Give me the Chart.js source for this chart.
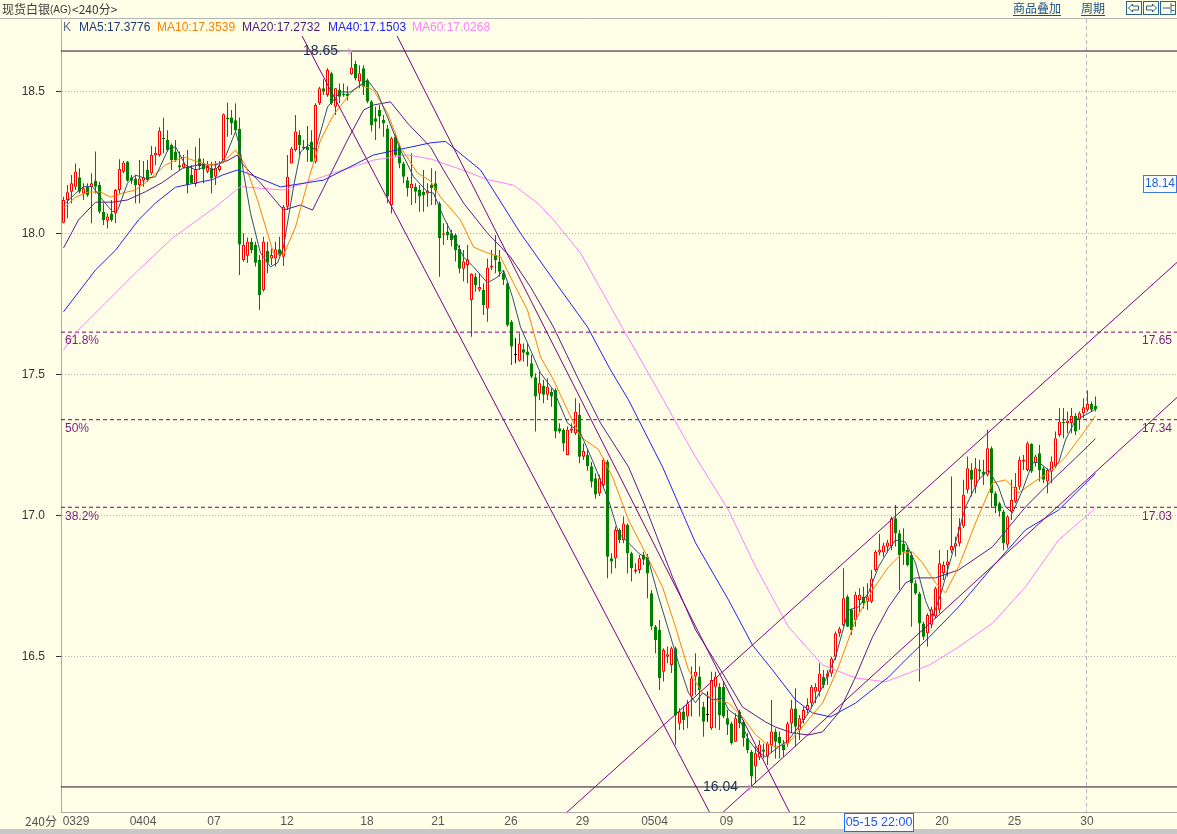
<!DOCTYPE html>
<html>
<head>
<meta charset="utf-8">
<script src="https://cdn.jsdelivr.net/npm/chart.js@4.4.0/dist/chart.umd.min.js"></script>
<style>
  html, body { margin: 0; padding: 0; background: #ffffe8; overflow: hidden; }
  #wrap { position: relative; width: 1177px; height: 834px; }
</style>
</head>
<body>
<div id="wrap"><canvas id="kline" width="1177" height="834"></canvas></div>
<script>
// 现货白银 240分 K线
const opens = [
  18.037,18.118,18.147,18.165,18.198,18.141,18.165,18.165,18.186,18.171,
  18.076,18.044,18.070,18.070,18.153,18.218,18.253,18.198,18.194,18.171,
  18.186,18.224,18.212,18.276,18.277,18.338,18.330,18.312,18.289,18.241,
  18.233,18.236,18.206,18.174,18.265,18.250,18.218,18.230,18.200,18.224,
  18.253,18.410,18.410,18.400,18.370,17.905,17.920,17.970,17.958,17.905,
  17.799,17.938,17.911,17.911,17.943,17.917,18.094,18.247,18.295,18.348,
  18.306,18.306,18.324,18.253,18.460,18.513,18.489,18.566,18.448,18.507,
  18.495,18.495,18.563,18.599,18.537,18.584,18.542,18.466,18.407,18.436,
  18.401,18.371,18.100,18.342,18.306,18.247,18.188,18.159,18.165,18.153,
  18.147,18.141,18.171,18.177,18.106,17.995,18.006,18.000,17.994,17.944,
  17.874,17.888,17.764,17.846,17.800,17.799,17.734,17.879,17.923,17.900,
  17.858,17.823,17.687,17.569,17.549,17.589,17.581,17.540,17.490,17.433,
  17.459,17.428,17.439,17.445,17.310,17.304,17.215,17.301,17.292,17.357,
  17.209,17.215,17.175,17.133,17.080,17.109,17.192,16.850,16.850,16.950,
  16.914,16.968,16.867,16.803,16.808,16.861,16.855,16.726,16.608,16.596,
  16.448,16.501,16.472,16.531,16.265,16.307,16.289,16.360,16.431,16.431,
  16.324,16.295,16.248,16.395,16.395,16.395,16.283,16.265,16.200,16.307,
  16.271,16.212,16.165,16.112,16.145,16.173,16.147,16.188,16.236,16.218,
  16.194,16.194,16.265,16.318,16.242,16.277,16.312,16.336,16.377,16.377,
  16.430,16.430,16.442,16.501,16.584,16.613,16.714,16.666,16.631,16.702,
  16.714,16.696,16.696,16.808,16.870,16.870,16.890,16.891,16.991,16.938,
  16.902,16.879,16.861,16.761,16.725,16.619,16.584,16.614,16.643,16.667,
  16.797,16.826,16.877,16.891,16.903,16.962,17.092,17.162,17.103,17.165,
  17.157,17.145,17.239,17.080,17.044,17.015,16.897,17.015,17.050,17.103,
  17.192,17.162,17.254,17.186,17.221,17.168,17.121,17.157,17.174,17.286,
  17.333,17.328,17.328,17.353,17.340,17.363,17.375,17.396,17.389
];
const highs = [
  18.129,18.171,18.206,18.247,18.230,18.177,18.177,18.212,18.289,18.182,
  18.106,18.070,18.118,18.157,18.262,18.256,18.256,18.206,18.206,18.259,
  18.256,18.259,18.309,18.306,18.375,18.409,18.365,18.318,18.330,18.289,
  18.277,18.295,18.241,18.306,18.336,18.265,18.256,18.253,18.256,18.256,
  18.424,18.463,18.436,18.460,18.410,18.000,17.985,17.983,17.970,17.923,
  17.988,17.970,17.946,17.970,17.988,18.100,18.277,18.306,18.419,18.365,
  18.330,18.380,18.365,18.460,18.519,18.545,18.584,18.572,18.513,18.530,
  18.530,18.520,18.645,18.611,18.595,18.595,18.548,18.472,18.448,18.454,
  18.419,18.383,18.342,18.354,18.318,18.253,18.200,18.283,18.177,18.171,
  18.224,18.177,18.230,18.220,18.112,18.035,18.035,18.012,18.000,17.958,
  17.941,17.958,17.858,17.858,17.858,17.823,17.911,17.941,17.994,17.941,
  17.870,17.829,17.693,17.628,17.646,17.610,17.610,17.569,17.504,17.510,
  17.481,17.487,17.451,17.451,17.327,17.310,17.316,17.327,17.416,17.398,
  17.256,17.235,17.190,17.150,17.145,17.204,17.198,16.867,16.962,16.956,
  16.997,16.973,16.873,16.832,16.861,16.873,16.865,16.737,16.613,16.631,
  16.531,16.537,16.537,16.537,16.319,16.325,16.348,16.466,16.513,16.466,
  16.342,16.378,16.448,16.448,16.407,16.413,16.313,16.271,16.301,16.313,
  16.277,16.230,16.171,16.183,16.205,16.194,16.200,16.348,16.247,16.236,
  16.206,16.271,16.348,16.389,16.295,16.324,16.354,16.401,16.407,16.478,
  16.454,16.454,16.501,16.590,16.607,16.814,16.720,16.672,16.731,16.743,
  16.749,16.761,16.808,16.879,16.935,16.905,16.915,16.997,17.038,16.950,
  16.956,16.891,16.873,16.773,16.731,16.625,16.655,16.678,16.749,16.879,
  16.838,16.879,17.139,16.926,16.991,17.127,17.210,17.186,17.204,17.198,
  17.198,17.304,17.245,17.086,17.050,17.021,17.003,17.127,17.151,17.210,
  17.215,17.263,17.257,17.215,17.251,17.174,17.168,17.210,17.298,17.381,
  17.381,17.369,17.381,17.363,17.369,17.416,17.443,17.404,17.422
];
const lows = [
  18.035,18.053,18.106,18.153,18.141,18.118,18.129,18.035,18.141,18.070,
  18.029,18.017,18.041,18.035,18.141,18.212,18.182,18.174,18.106,18.106,
  18.165,18.182,18.206,18.241,18.271,18.283,18.289,18.224,18.253,18.224,
  18.230,18.141,18.177,18.165,18.224,18.177,18.212,18.141,18.171,18.218,
  18.250,18.342,18.348,18.360,17.852,17.899,17.895,17.929,17.882,17.728,
  17.793,17.858,17.888,17.882,17.919,17.884,18.082,18.247,18.289,18.277,
  18.295,18.253,18.253,18.247,18.454,18.489,18.483,18.454,18.419,18.460,
  18.483,18.470,18.560,18.542,18.513,18.489,18.460,18.360,18.330,18.371,
  18.342,18.106,18.070,18.271,18.230,18.177,18.130,18.100,18.106,18.076,
  18.076,18.094,18.100,18.100,17.846,17.958,17.976,17.953,17.900,17.858,
  17.829,17.823,17.634,17.793,17.793,17.711,17.687,17.870,17.858,17.846,
  17.817,17.669,17.534,17.540,17.546,17.546,17.528,17.487,17.298,17.410,
  17.398,17.410,17.386,17.274,17.292,17.227,17.215,17.292,17.286,17.186,
  17.197,17.160,17.100,17.060,17.070,17.103,16.779,16.796,16.814,16.903,
  16.903,16.796,16.767,16.796,16.796,16.826,16.708,16.596,16.513,16.383,
  16.413,16.478,16.443,16.189,16.242,16.242,16.248,16.289,16.366,16.289,
  16.218,16.271,16.242,16.248,16.242,16.283,16.224,16.189,16.200,16.248,
  16.183,16.159,16.040,16.053,16.135,16.141,16.118,16.159,16.141,16.141,
  16.147,16.183,16.230,16.183,16.206,16.265,16.301,16.318,16.336,16.360,
  16.389,16.401,16.430,16.489,16.572,16.607,16.607,16.578,16.607,16.660,
  16.672,16.666,16.690,16.802,16.860,16.855,16.870,16.879,16.891,16.737,
  16.826,16.820,16.607,16.720,16.413,16.560,16.537,16.602,16.637,16.655,
  16.773,16.785,16.867,16.856,16.891,16.956,17.080,17.068,17.080,17.127,
  17.109,17.139,17.027,17.009,16.997,16.879,16.885,16.985,17.044,17.092,
  17.162,17.157,17.151,17.174,17.121,17.115,17.080,17.115,17.168,17.280,
  17.274,17.292,17.292,17.286,17.304,17.345,17.369,17.369,17.369
];
const closes = [
  18.118,18.145,18.177,18.218,18.147,18.159,18.135,18.177,18.165,18.076,
  18.047,18.059,18.047,18.153,18.227,18.250,18.186,18.186,18.171,18.194,
  18.198,18.188,18.277,18.285,18.363,18.333,18.295,18.259,18.259,18.233,
  18.247,18.171,18.177,18.227,18.236,18.226,18.238,18.194,18.232,18.238,
  18.421,18.403,18.390,18.365,17.960,17.958,17.970,17.940,17.896,17.781,
  17.970,17.896,17.923,17.943,17.923,18.094,18.200,18.300,18.360,18.312,
  18.300,18.295,18.253,18.454,18.513,18.501,18.578,18.460,18.513,18.483,
  18.489,18.485,18.587,18.548,18.566,18.519,18.466,18.383,18.395,18.413,
  18.389,18.130,18.336,18.277,18.247,18.200,18.159,18.174,18.147,18.130,
  18.135,18.151,18.159,18.153,17.982,18.000,17.994,17.976,17.941,17.874,
  17.900,17.908,17.856,17.817,17.810,17.746,17.878,17.885,17.905,17.864,
  17.835,17.675,17.599,17.569,17.610,17.577,17.569,17.492,17.422,17.469,
  17.428,17.457,17.422,17.298,17.298,17.256,17.304,17.309,17.368,17.209,
  17.229,17.175,17.120,17.075,17.133,17.198,16.855,16.838,16.950,16.914,
  16.973,16.867,16.814,16.810,16.850,16.844,16.796,16.608,16.560,16.425,
  16.525,16.510,16.531,16.295,16.307,16.277,16.336,16.425,16.448,16.383,
  16.271,16.295,16.419,16.431,16.295,16.289,16.260,16.195,16.283,16.265,
  16.212,16.171,16.077,16.159,16.190,16.165,16.194,16.236,16.200,16.194,
  16.171,16.265,16.318,16.253,16.283,16.312,16.330,16.395,16.395,16.442,
  16.401,16.442,16.495,16.584,16.601,16.708,16.607,16.596,16.720,16.720,
  16.690,16.714,16.778,16.873,16.880,16.895,16.905,16.991,16.938,16.861,
  16.873,16.826,16.761,16.725,16.619,16.572,16.649,16.669,16.743,16.832,
  16.826,16.838,16.893,16.903,16.962,17.074,17.168,17.127,17.168,17.157,
  17.145,17.239,17.080,17.033,17.015,16.903,16.997,17.056,17.103,17.198,
  17.198,17.257,17.157,17.210,17.162,17.127,17.162,17.192,17.274,17.333,
  17.328,17.337,17.353,17.298,17.363,17.384,17.396,17.375,17.377
];

// 均线 [K线序号, 数值]
const ma5Pts = [[0,18.10],[3,18.141],[5,18.165],[7.25,18.165],[9.75,18.118],[12.25,18.076],[13.5,18.08],[16,18.177],[18,18.206],[20.5,18.194],[23,18.20],[26.25,18.30],[28,18.306],[30.5,18.241],[33,18.224],[35.5,18.235],[38,18.224],[40.5,18.271],[43,18.36],[44,18.31],[45,18.215],[46.75,18.071],[49.25,17.93],[51.75,17.881],[53.5,17.895],[55,17.951],[57.5,18.164],[59.25,18.288],[61.25,18.313],[63,18.295],[66,18.447],[69.25,18.50],[71.75,18.50],[76,18.542],[78.5,18.496],[81,18.411],[84.25,18.295],[87.5,18.20],[91,18.146],[92.5,18.142],[95,18.058],[97.5,17.987],[100,17.916],[102.5,17.881],[106,17.824],[108.5,17.845],[110,17.87],[112.25,17.774],[114.25,17.668],[116.75,17.587],[119.25,17.505],[122.5,17.445],[126,17.328],[129.25,17.293],[132.5,17.187],[136.25,17.056],[138.75,16.939],[141.25,16.904],[143.75,16.868],[146.25,16.843],[148.75,16.713],[151.25,16.596],[153.75,16.479],[156.25,16.373],[158,16.338],[159.75,16.373],[162.25,16.348],[164.75,16.355],[166.25,16.313],[168.75,16.288],[171.25,16.207],[173.75,16.161],[175.5,16.147],[178.75,16.181],[181.25,16.206],[183.75,16.252],[186.25,16.302],[189.75,16.394],[193,16.50],[196.25,16.666],[198.75,16.677],[201.25,16.727],[203.75,16.819],[206.25,16.879],[208,16.914],[210.5,16.907],[213,16.833],[215.5,16.70],[217.25,16.64],[219.25,16.72],[222.25,16.868],[225.5,17.031],[228.75,17.127],[231.25,17.162],[233.75,17.102],[235.5,17.031],[237.25,17.01],[239.75,17.091],[242.25,17.187],[243.75,17.19],[246.25,17.162],[248.75,17.187],[250.5,17.268],[253,17.339],[255.5,17.357],[258,17.377]];
const ma10Pts = [[0,18.089],[3,18.128],[6.25,18.146],[9.25,18.146],[11.75,18.128],[14.75,18.142],[18,18.153],[21.25,18.188],[25.5,18.242],[30,18.27],[33.75,18.252],[36.25,18.242],[39.75,18.249],[43,18.295],[45.5,18.24],[48.5,18.118],[51,18.0],[52.5,17.93],[55,17.923],[58,18.022],[61,18.178],[64.25,18.33],[67.5,18.419],[71.75,18.496],[74.25,18.525],[77.5,18.507],[81,18.426],[84.25,18.305],[88.5,18.213],[91.75,18.185],[94.25,18.128],[99.25,18.047],[102.5,17.951],[106,17.93],[109.25,17.916],[112.5,17.824],[116,17.728],[119.25,17.562],[122.5,17.481],[126,17.374],[129.25,17.279],[133.75,17.235],[137.25,17.137],[141.25,16.985],[145.5,16.868],[149.75,16.748],[153,16.606],[156.25,16.454],[159.75,16.373],[163,16.348],[166.25,16.337],[169.75,16.288],[173,16.225],[175.5,16.196],[178,16.181],[181.25,16.196],[185.5,16.266],[189.75,16.337],[193.75,16.465],[198,16.631],[202.25,16.737],[206.25,16.819],[209.75,16.868],[212.25,16.872],[214.75,16.833],[218,16.762],[220.5,16.727],[223.75,16.819],[228,16.974],[232.25,17.116],[235.5,17.127],[238.75,17.081],[242.25,17.116],[247.25,17.162],[250.5,17.208],[255.5,17.304],[258,17.354]];
const ma20Pts = [[0,17.948],[3.75,18.047],[8,18.11],[12.25,18.11],[16,18.118],[20.5,18.147],[24.75,18.18],[29.75,18.23],[33.75,18.242],[38,18.242],[41.25,18.259],[43.5,18.277],[44.25,18.252],[49.25,18.178],[55,18.082],[59.25,18.10],[62.25,18.082],[66,18.188],[71,18.33],[75,18.436],[77.5,18.454],[81.75,18.465],[86,18.39],[91.75,18.305],[95,18.224],[100,18.107],[106,18.0],[111.75,17.916],[116.75,17.81],[122.5,17.668],[128.5,17.49],[134.25,17.328],[141.25,17.173],[145.5,17.031],[152.25,16.783],[158,16.596],[164.75,16.443],[169.75,16.323],[175.5,16.27],[178,16.252],[182.25,16.231],[186.25,16.224],[189.75,16.235],[193.75,16.302],[198,16.429],[202.25,16.571],[206.25,16.677],[210.5,16.762],[213,16.78],[218,16.78],[223.75,16.808],[232.25,16.89],[240.5,17.031],[247.25,17.127],[253,17.204],[258,17.273]];
const ma40Pts = [[0,17.722],[8,17.87],[13,17.94],[18.75,18.047],[23,18.107],[28,18.163],[33,18.178],[37.25,18.19],[39.75,18.206],[43.5,18.224],[45.5,18.215],[54.25,18.164],[65,18.188],[77.5,18.277],[91.75,18.32],[95.5,18.325],[104.25,18.224],[114.25,18.0],[122.5,17.835],[131,17.668],[136.75,17.516],[141.25,17.41],[149.75,17.173],[158,16.904],[166.25,16.702],[172.25,16.542],[177.25,16.454],[183,16.348],[187.25,16.302],[191.75,16.288],[198,16.337],[206.25,16.429],[212.25,16.514],[216.5,16.571],[223.75,16.677],[232.25,16.819],[240.5,16.95],[248.75,17.02],[258,17.15]];
const ma60Pts = [[0,17.587],[3,17.647],[10.5,17.753],[18.75,17.87],[27.25,17.983],[38,18.093],[44.25,18.165],[55,18.153],[67.5,18.213],[77.5,18.259],[86,18.277],[91.75,18.263],[99.75,18.224],[106,18.19],[112.5,18.17],[118.5,18.107],[122.5,18.047],[129.25,17.93],[136.75,17.74],[150,17.41],[153.75,17.314],[158,17.208],[166.25,17.02],[173,16.82],[181.25,16.606],[189.75,16.472],[198,16.426],[205.5,16.412],[211.25,16.443],[216.5,16.472],[223.75,16.535],[232.25,16.62],[240.5,16.748],[248.75,16.914],[258,17.027]];

// 画线: 下降通道 / 上升通道 (起点, 终点)
const trendLines = [
  [[59.5, 18.702], [163.5, 15.897]],
  [[83.3, 18.701], [183.5, 15.895]],
  [[121.5, 15.895], [278.4, 17.897]],
  [[160.6, 15.895], [278.4, 17.419]]
];
const highLow = [18.645, 16.04];
const highLowText = ['18.65', '16.04'];
const fibLevels = [17.65, 17.34, 17.03];
const fibPct = ['61.8%', '50%', '38.2%'];
const fibText = ['17.65', '17.34', '17.03'];

const yTicks = [16.5, 17.0, 17.5, 18.0, 18.5];
const xTickPos = [3.125, 19.875, 37.625, 55.875, 75.875, 93.625, 111.875, 129.75, 147.75, 165.75, 183.875, 219.625, 237.75, 255.875];
const xTickText = ['0329', '0404', '07', '12', '18', '21', '26', '29', '0504', '09', '12', '20', '25', '30'];
const cursorIdx = 255.875;
const cursorTimeIdx = 203.875;
const cursorTime = '05-15 22:00';
const cursorPrice = 18.174;
const cursorPriceText = '18.14';

const legendItems = ['MA5:17.3776', 'MA10:17.3539', 'MA20:17.2732', 'MA40:17.1503', 'MA60:17.0268'];
const maColors = ['#2f4f6f', '#ff8000', '#5a1a8a', '#2020ff', '#ff80ff'];
const legendColors = ['#1a3a70', '#ff7f00', '#4a1a80', '#2020ff', '#ff80ff'];

const BG = '#ffffe8';
const UP = '#ff0000';
const DOWN = '#008000';
const FONT = '"Liberation Sans", Arial, sans-serif';
const CJK = '"Noto Sans CJK SC", "Liberation Sans", sans-serif';

const xMin = -0.625, xMax = 278.375;
const yMax = 18.5 + 56 / 282.5, yMin = 18.5 - 720 / 282.5;

const isUp = i => closes[i] > opens[i];
const candleColor = i => closes[i] > opens[i] ? UP : (closes[i] < opens[i] ? DOWN : '#000000');
const toXY = pts => pts.map(p => ({x: p[0], y: p[1]}));

const datasets = [
  {
    type: 'bar', label: 'wick',
    data: lows.map((l, i) => ({x: i, y: [l, highs[i]]})),
    backgroundColor: c => candleColor(c.dataIndex),
    borderWidth: 0, barThickness: 1, grouped: false, minBarLength: 1, inflateAmount: 0, order: 20
  },
  {
    type: 'bar', label: 'body',
    data: opens.map((o, i) => ({x: i, y: [o, closes[i]]})),
    backgroundColor: c => isUp(c.dataIndex) ? BG : candleColor(c.dataIndex),
    borderColor: c => candleColor(c.dataIndex),
    borderWidth: 1, borderSkipped: false, barThickness: 3, grouped: false, minBarLength: 1, inflateAmount: 0, order: 19
  }
];

highLow.forEach(v => datasets.push({
  type: 'line', data: [{x: xMin, y: v}, {x: xMax, y: v}],
  borderColor: '#2a0a2a', borderWidth: 1, pointRadius: 0, order: 12
}));
fibLevels.forEach(v => datasets.push({
  type: 'line', data: [{x: xMin, y: v}, {x: xMax, y: v}],
  borderColor: '#7a0070', borderWidth: 1, borderDash: [4, 3], pointRadius: 0, order: 11
}));
[ma60Pts, ma40Pts, ma20Pts, ma10Pts, ma5Pts].forEach((pts, k) => datasets.push({
  type: 'line', data: toXY(pts),
  borderColor: maColors[4 - k], borderWidth: 1, pointRadius: 0, tension: 0, order: 8 - k
}));
trendLines.forEach(seg => datasets.push({
  type: 'line', data: toXY(seg),
  borderColor: '#800080', borderWidth: 1, pointRadius: 0, order: 1, clip: 0
}));

function text(ctx, s, x, y, color, font, align) {
  ctx.fillStyle = color;
  ctx.font = font;
  ctx.textAlign = align || 'left';
  ctx.textBaseline = 'middle';
  ctx.fillText(s, x, y);
}

function arrowRight(ctx, x1, x2, y) {
  ctx.strokeStyle = '#e890e8';
  ctx.lineWidth = 1;
  ctx.beginPath();
  ctx.moveTo(x1, y + 0.5); ctx.lineTo(x2, y + 0.5);
  ctx.moveTo(x2 - 4, y - 2.5); ctx.lineTo(x2, y + 0.5); ctx.lineTo(x2 - 4, y + 3.5);
  ctx.stroke();
}

const decor = {
  id: 'decor',
  beforeDraw(chart) {
    const ctx = chart.ctx;
    ctx.save();
    ctx.fillStyle = BG;
    ctx.fillRect(0, 0, chart.width, chart.height);
    ctx.fillStyle = '#c8c8c8';
    ctx.fillRect(0, 829, chart.width, 5);
    ctx.strokeStyle = '#b4b4b4';
    ctx.lineWidth = 1;
    ctx.beginPath();
    ctx.moveTo(0, 18.5); ctx.lineTo(chart.width, 18.5);
    ctx.moveTo(61.5, 19); ctx.lineTo(61.5, 36);
    ctx.stroke();
    ctx.restore();
  },
  beforeDatasetsDraw(chart) {
    const ctx = chart.ctx;
    const x = Math.round(chart.scales.x.getPixelForValue(cursorIdx)) - 0.5;
    ctx.save();
    ctx.strokeStyle = '#b8b8b8';
    ctx.setLineDash([4, 3]);
    ctx.beginPath();
    ctx.moveTo(x, 19); ctx.lineTo(x, chart.chartArea.bottom);
    ctx.stroke();
    ctx.restore();
  },
  afterDraw(chart) {
    const ctx = chart.ctx;
    const xs = chart.scales.x, ys = chart.scales.y;
    ctx.save();

    // 标题栏
    text(ctx, '现货白银', 2, 9, '#3a3a3a', '12px ' + CJK);
    text(ctx, '(AG)', 50, 10.5, '#3a3a3a', '10px ' + FONT);
    text(ctx, '<240分>', 72, 9, '#3a3a3a', '12px ' + CJK);
    text(ctx, '商品叠加', 1013, 8, '#1c4e80', '12px ' + CJK);
    text(ctx, '周期', 1081, 8, '#1c4e80', '12px ' + CJK);
    ctx.strokeStyle = '#1c4e80';
    ctx.lineWidth = 1;
    ctx.beginPath();
    ctx.moveTo(1013, 15.5); ctx.lineTo(1061, 15.5);
    ctx.moveTo(1081, 15.5); ctx.lineTo(1105, 15.5);
    ctx.stroke();
    ctx.strokeStyle = '#2a6090';
    [1126.5, 1143.5, 1160.5].forEach((bx, k) => {
      ctx.strokeRect(bx, 1.5, 15, 13);
      ctx.beginPath();
      if (k === 0) {
        ctx.moveTo(bx + 2, 8); ctx.lineTo(bx + 6, 4); ctx.lineTo(bx + 6, 6); ctx.lineTo(bx + 12, 6);
        ctx.lineTo(bx + 12, 10); ctx.lineTo(bx + 6, 10); ctx.lineTo(bx + 6, 12); ctx.closePath();
      } else if (k === 1) {
        ctx.moveTo(bx + 13, 8); ctx.lineTo(bx + 9, 4); ctx.lineTo(bx + 9, 6); ctx.lineTo(bx + 3, 6);
        ctx.lineTo(bx + 3, 10); ctx.lineTo(bx + 9, 10); ctx.lineTo(bx + 9, 12); ctx.closePath();
      } else {
        ctx.moveTo(bx + 2, 8); ctx.lineTo(bx + 10, 8);
        ctx.moveTo(bx + 10.5, 3); ctx.lineTo(bx + 10.5, 13);
        ctx.moveTo(bx + 11, 5.5); ctx.lineTo(bx + 14, 5.5);
        ctx.moveTo(bx + 11, 10.5); ctx.lineTo(bx + 14, 10.5);
      }
      ctx.stroke();
    });

    // 均线图例
    text(ctx, 'K', 63, 28, '#5a6a8a', '12px ' + FONT);
    const legendX = [79, 157, 242, 328, 412];
    legendItems.forEach((s, k) => text(ctx, s, legendX[k], 28, legendColors[k], '12px ' + FONT));

    // 最高 / 最低
    const hlX = [303, 703];
    highLow.forEach((v, k) => {
      const y = Math.round(ys.getPixelForValue(v));
      text(ctx, highLowText[k], hlX[k], y, '#1a2f4f', '14px ' + FONT);
      arrowRight(ctx, hlX[k] + 37, hlX[k] + 49, y);
    });

    // 黄金分割
    fibLevels.forEach((v, k) => {
      const y = ys.getPixelForValue(v) + 9;
      text(ctx, fibPct[k], 65, y, '#7a1a7a', '12px ' + FONT);
      text(ctx, fibText[k], 1172, y, '#7a1a7a', '12px ' + FONT, 'right');
    });

    // 光标价格
    const py = Math.round(ys.getPixelForValue(cursorPrice));
    ctx.fillStyle = '#ffffff';
    ctx.fillRect(1143.5, py - 8.5, 33, 17);
    ctx.strokeStyle = '#3a7ae0';
    ctx.strokeRect(1143.5, py - 8.5, 33, 17);
    text(ctx, cursorPriceText, 1160, py, '#1a60e0', '12px ' + FONT, 'center');

    // 光标时间
    const tx = Math.round(xs.getPixelForValue(cursorTimeIdx));
    ctx.fillStyle = '#ffffff';
    ctx.fillRect(tx - 34.5, 813.5, 69, 18);
    ctx.strokeStyle = '#1a6aff';
    ctx.strokeRect(tx - 34.5, 813.5, 69, 18);
    text(ctx, cursorTime, tx, 823, '#1a5ae0', '12.5px ' + FONT, 'center');

    text(ctx, '240分', 57, 821, '#555555', '12px ' + CJK, 'right');
    ctx.restore();
  }
};

Chart.defaults.font.family = FONT;

new Chart(document.getElementById('kline'), {
  type: 'bar',
  data: { datasets: datasets },
  options: {
    responsive: false,
    animation: false,
    devicePixelRatio: 1,
    events: [],
    layout: { padding: { top: 36, left: 0, right: 0, bottom: 0 } },
    plugins: { legend: { display: false }, tooltip: { enabled: false } },
    scales: {
      x: {
        type: 'linear', min: xMin, max: xMax, offset: false, bounds: 'data',
        afterFit: s => { s.height = 22; },
        afterBuildTicks: s => { s.ticks = xTickPos.map(v => ({ value: v })); },
        ticks: {
          autoSkip: false, maxRotation: 0, padding: 2,
          color: '#555555', font: { size: 12 },
          callback: (v, i) => xTickText[i]
        },
        grid: { display: false, drawTicks: false },
        border: { display: true, color: '#a8a8a8' }
      },
      y: {
        type: 'linear', position: 'left', min: yMin, max: yMax, bounds: 'data',
        afterFit: s => { s.width = 61; },
        afterBuildTicks: s => { s.ticks = yTicks.map(v => ({ value: v })); },
        ticks: { padding: 11, color: '#333333', font: { size: 12 }, callback: v => v.toFixed(1) },
        grid: { color: '#b0b0b0', lineWidth: 1, drawTicks: true, tickLength: 5, tickColor: '#333333' },
        border: { display: true, color: '#a8a8a8', dash: [1, 2] }
      }
    }
  },
  plugins: [decor]
});
</script>
</body>
</html>
